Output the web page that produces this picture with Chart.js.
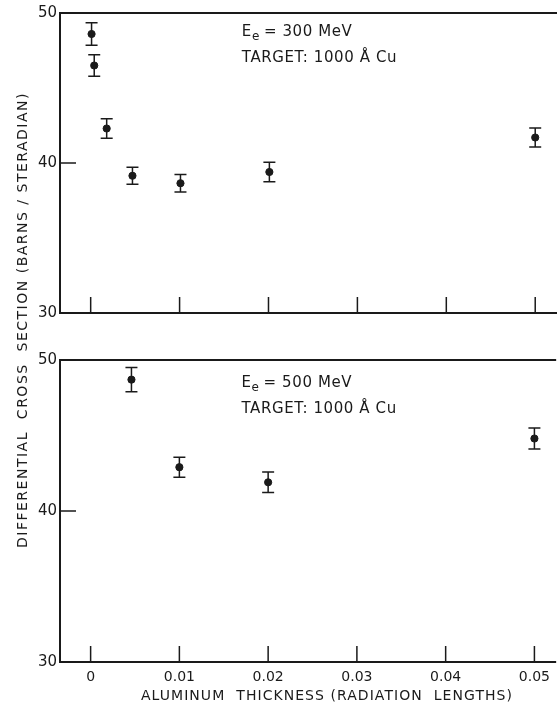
<!DOCTYPE html>
<html>
<head>
<meta charset="utf-8">
<script src="https://cdn.jsdelivr.net/npm/chart.js@4/dist/chart.umd.min.js"></script>
<style>
  html, body { margin: 0; padding: 0; background: #fff; }
  body { width: 557px; height: 704px; position: relative; overflow: hidden; font-family: "DejaVu Sans", sans-serif; color: #1a1a1a; }
  #c1 { position: absolute; left: 0; top: 0; }
  #c2 { position: absolute; left: 0; top: 330px; }
  .ytitle { position: absolute; left: 22px; top: 320px; transform: translate(-50%, -50%) rotate(-90deg); white-space: nowrap; font-size: 14px; letter-spacing: 1.5px; }
  .xtitle { position: absolute; left: 327px; top: 695px; transform: translate(-50%, -50%); white-space: nowrap; font-size: 14px; letter-spacing: 1.05px; }
</style>
</head>
<body>
<canvas id="c1" width="557" height="330"></canvas>
<canvas id="c2" width="557" height="374"></canvas>
<div class="ytitle">DIFFERENTIAL&nbsp; CROSS&nbsp; SECTION (BARNS / STERADIAN)</div>
<div class="xtitle">ALUMINUM&nbsp; THICKNESS (RADIATION&nbsp; LENGTHS)</div>
<script>
// ---- data ----
const xTicks = [0, 0.01, 0.02, 0.03, 0.04, 0.05];
const xTickLabels = ["0", "0.01", "0.02", "0.03", "0.04", "0.05"];
const yTicks = [30, 40, 50];
const yTickLabels = ["30", "40", "50"];

const thick300 = [0.0001, 0.0004, 0.0018, 0.0047, 0.0101, 0.0201, 0.0500];
const sigma300 = [48.6, 46.5, 42.3, 39.15, 38.65, 39.4, 41.7];
const err300   = [0.75, 0.72, 0.65, 0.56, 0.58, 0.65, 0.63];

const thick500 = [0.0046, 0.0100, 0.0200, 0.0500];
const sigma500 = [48.7, 42.9, 41.9, 44.8];
const err500   = [0.8, 0.66, 0.68, 0.7];

const label300 = ["300 MeV", "TARGET: 1000 Å Cu"];
const label500 = ["500 MeV", "TARGET: 1000 Å Cu"];

const INK = "#1a1a1a";
const FONT = '"DejaVu Sans", sans-serif';

const framePlugin = {
  id: 'frame',
  beforeDatasetsDraw(chart, args, opts) {
    const { ctx, scales: { x, y } } = chart;
    const ds = chart.data.datasets[0];
    ctx.save();
    ctx.strokeStyle = INK;
    ctx.lineWidth = 1.5;
    ds.data.forEach((p, i) => {
      const e = opts.errors[i];
      const px = x.getPixelForValue(p.x);
      const y1 = y.getPixelForValue(p.y + e);
      const y2 = y.getPixelForValue(p.y - e);
      ctx.beginPath();
      ctx.moveTo(px, y1); ctx.lineTo(px, y2);
      ctx.moveTo(px - 6, y1); ctx.lineTo(px + 6, y1);
      ctx.moveTo(px - 6, y2); ctx.lineTo(px + 6, y2);
      ctx.stroke();
    });
    ctx.restore();
  },
  afterDatasetsDraw(chart, args, opts) {
    const { ctx, chartArea: a, scales: { x, y } } = chart;
    ctx.save();
    ctx.strokeStyle = INK;
    ctx.lineWidth = 2;
    ctx.beginPath();
    ctx.moveTo(a.right, a.top);
    ctx.lineTo(a.left, a.top);
    ctx.lineTo(a.left, a.bottom);
    ctx.lineTo(a.right, a.bottom);
    ctx.stroke();
    ctx.lineWidth = 1.5;
    ctx.beginPath();
    x.ticks.forEach(t => {
      const px = x.getPixelForValue(t.value);
      ctx.moveTo(px, a.bottom); ctx.lineTo(px, a.bottom - 16);
    });
    y.ticks.forEach(t => {
      const py = y.getPixelForValue(t.value);
      ctx.moveTo(a.left, py); ctx.lineTo(a.left + 16, py);
    });
    ctx.stroke();
    // annotation
    const lx = x.getPixelForValue(opts.labelX);
    const ly1 = a.top + opts.line1;
    const ly2 = a.top + opts.line2;
    ctx.fillStyle = INK;
    ctx.textBaseline = 'middle';
    ctx.textAlign = 'left';
    ctx.font = '15px ' + FONT;
    ctx.letterSpacing = '0.6px';
    ctx.fillText('E', lx, ly1);
    const wE = ctx.measureText('E').width;
    ctx.font = '12px ' + FONT;
    ctx.fillText('e', lx + wE, ly1 + 5);
    const we = ctx.measureText('e').width;
    ctx.font = '15px ' + FONT;
    ctx.fillText('= ' + opts.text[0], lx + wE + we + 4, ly1);
    ctx.fillText(opts.text[1], lx, ly2);
    ctx.restore();
  }
};

function makeChart(id, xs, ys, errs, text, padTop, padBottom, showX, line1, line2) {
  return new Chart(document.getElementById(id), {
    type: 'scatter',
    data: {
      datasets: [{
        data: xs.map((v, i) => ({ x: v, y: ys[i] })),
        backgroundColor: INK,
        borderColor: INK,
        pointRadius: 3.6,
        pointHoverRadius: 3.6,
        clip: false
      }]
    },
    options: {
      responsive: false,
      animation: false,
      events: [],
      layout: { autoPadding: false, padding: { top: padTop, right: 0, bottom: padBottom, left: 0 } },
      plugins: {
        legend: { display: false },
        tooltip: { enabled: false },
        frame: { errors: errs, text: text, labelX: 0.0170, line1: line1, line2: line2 }
      },
      scales: {
        x: {
          type: 'linear',
          min: -0.00345,
          max: 0.05245,
          display: showX,
          afterBuildTicks: s => { s.ticks = xTicks.map(v => ({ value: v })); },
          afterFit: s => { if (showX) s.height = 42; },
          grid: { display: false, drawTicks: false },
          border: { display: false },
          ticks: {
            padding: 7,
            color: INK,
            font: { family: FONT, size: 14 },
            maxRotation: 0,
            autoSkip: false,
            callback: (v) => { const i = xTicks.indexOf(v); return i >= 0 ? xTickLabels[i] : ''; }
          }
        },
        y: {
          type: 'linear',
          min: 30,
          max: 50,
          afterBuildTicks: s => { s.ticks = yTicks.map(v => ({ value: v })); },
          afterFit: s => { s.width = 60; },
          grid: { display: false, drawTicks: false },
          border: { display: false },
          ticks: {
            padding: 3,
            color: INK,
            font: { family: FONT, size: 15 },
            callback: (v) => { const i = yTicks.indexOf(v); return i >= 0 ? yTickLabels[i] : ''; }
          }
        }
      }
    },
    plugins: [framePlugin]
  });
}

makeChart('c1', thick300, sigma300, err300, label300, 13, 17, false, 19, 45);
makeChart('c2', thick500, sigma500, err500, label500, 30, 0, true, 23, 49);
</script>
</body>
</html>
